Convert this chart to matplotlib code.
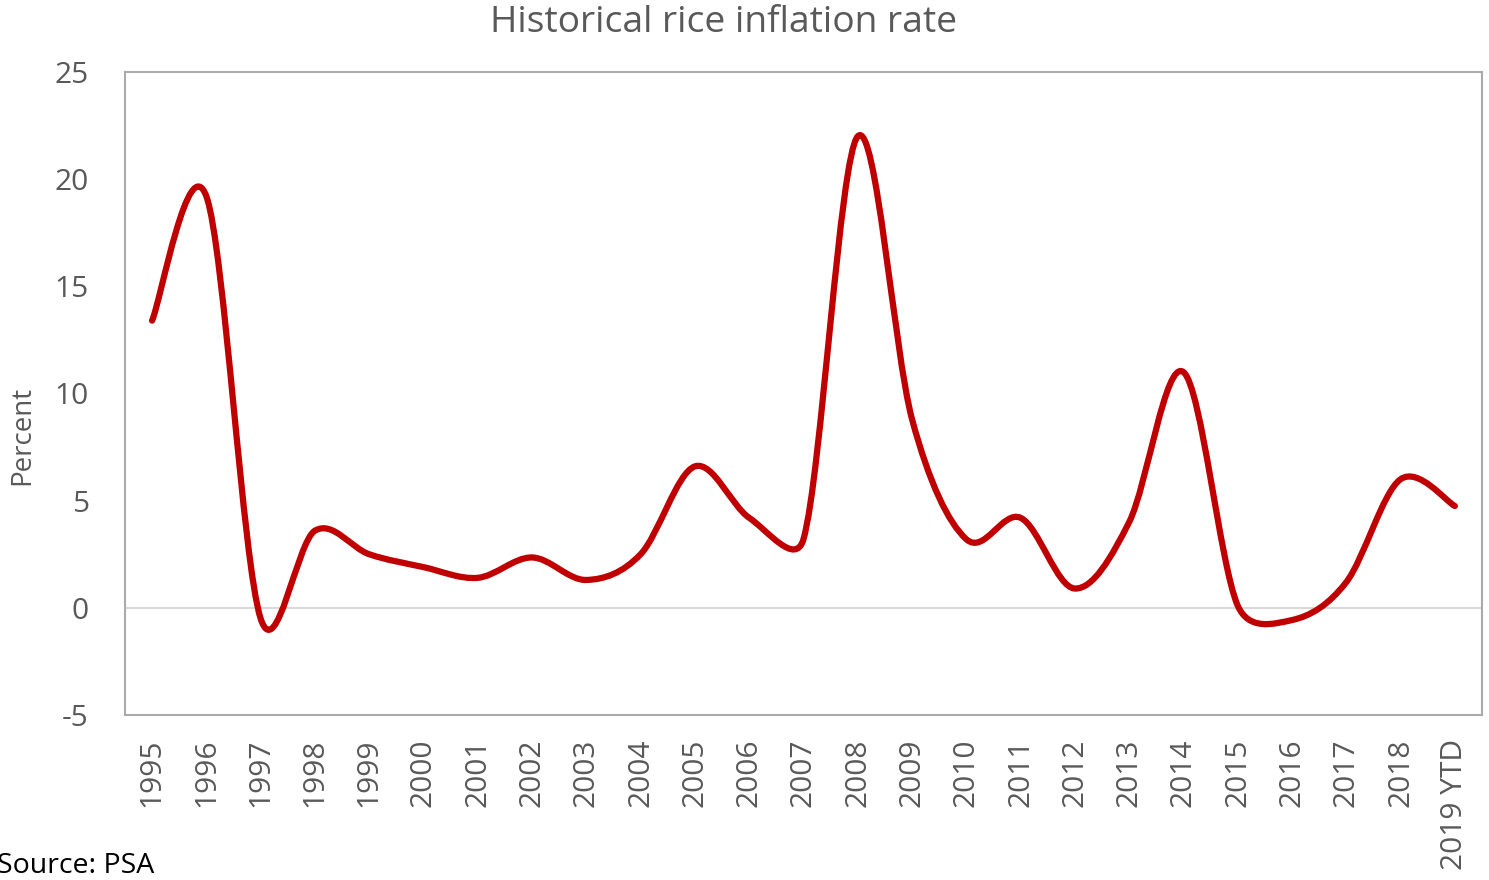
import matplotlib.pyplot as plt
import numpy as np
from matplotlib.path import Path
from matplotlib.patches import PathPatch

years = ['1995', '1996', '1997', '1998', '1999', '2000', '2001', '2002',
         '2003', '2004', '2005', '2006', '2007', '2008', '2009', '2010',
         '2011', '2012', '2013', '2014', '2015', '2016', '2017', '2018',
         '2019 YTD']
rice_inflation = [13.4, 19.2, -0.5, 3.6, 2.5, 1.9, 1.4, 2.35, 1.3, 2.5,
                  6.6, 4.2, 3.2, 22.0, 8.8, 3.2, 4.2, 0.9, 4.0, 11.0,
                  0.1, -0.57, 1.2, 6.0, 4.75]
yticks = [-5, 0, 5, 10, 15, 20, 25]

plt.rcParams['font.family'] = ['Open Sans', 'DejaVu Sans']
grey = '#595959'


def smooth_path(x, y, sx, sy):
    # excel-like smoothed line: bezier with 1/6 tangents, capped at half
    # of the segment length (measured in screen pixels, sx/sy px per unit)
    pts = np.column_stack([np.asarray(x) * sx, np.asarray(y) * sy]).astype(float)
    n = len(pts)
    verts = [pts[0]]
    codes = [Path.MOVETO]
    for i in range(n - 1):
        p0 = pts[max(i - 1, 0)]
        p1 = pts[i]
        p2 = pts[i + 1]
        p3 = pts[min(i + 2, n - 1)]
        d12 = np.hypot(*(p2 - p1))
        d02 = np.hypot(*(p2 - p0))
        d13 = np.hypot(*(p3 - p1))
        f = 1 / 6 if d02 / 6 < d12 / 2 else d12 / (2 * d02)
        g = 1 / 6 if d13 / 6 < d12 / 2 else d12 / (2 * d13)
        c1 = p1 + f * (p2 - p0)
        c2 = p2 - g * (p3 - p1)
        verts += [c1, c2, p2]
        codes += [Path.CURVE4] * 3
    verts = np.array(verts) / [sx, sy]
    return Path(verts, codes)


fig = plt.figure(figsize=(14.89, 8.8), dpi=100)
ax = fig.add_axes([0.0839, 0.1875, 0.9114, 0.7307])

xs = np.arange(len(years))
px_x = 0.9114 * 1489 / len(years)
px_y = 0.7307 * 880 / 30
ax.axhline(0, color='#d9d9d9', lw=1.5, zorder=1)
patch = PathPatch(smooth_path(xs, rice_inflation, px_x, px_y),
                  facecolor='none', edgecolor='#c00000', lw=4.5,
                  capstyle='round', joinstyle='round', zorder=3)
ax.add_patch(patch)

ax.set_xlim(-0.5, len(years) - 0.5)
ax.set_ylim(-5, 25)
ax.set_yticks(yticks)
ax.set_yticklabels([str(v) for v in yticks])
ax.set_xticks(xs)
ax.set_xticklabels(years, rotation=90, va='top', ha='center')
ax.tick_params(axis='both', length=0, colors=grey, labelsize=21.5)
ax.tick_params(axis='x', pad=17)
ax.tick_params(axis='y', pad=26)
for s in ax.spines.values():
    s.set_color('#ababab')
    s.set_linewidth(1.5)

fig.text(22 / 1489, 1 - 435 / 880, 'Percent', color=grey, fontsize=20,
         rotation=90, ha='center', va='center')
fig.text(724 / 1489, 1 - 23 / 880, 'Historical rice inflation rate',
         color=grey, fontsize=26.8, ha='center', va='center')
fig.text(-0.002, 0.0, 'Source: PSA', color='black', fontsize=20.5,
         ha='left', va='bottom')

fig.savefig('out.png', dpi=100)
